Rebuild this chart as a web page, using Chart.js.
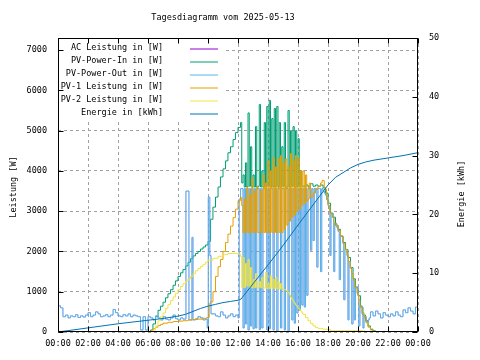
<!DOCTYPE html>
<html><head><meta charset="utf-8">
<script src="https://cdn.jsdelivr.net/npm/chart.js@4/dist/chart.umd.min.js"></script>
<style>html,body{margin:0;padding:0;background:#fff;overflow:hidden}</style>
</head><body>
<canvas id="c" width="480" height="360"></canvas>
<script>
// ---------- texts & ticks ----------
const chartTitle = 'Tagesdiagramm vom 2025-05-13';
const leftTitle = 'Leistung [W]';
const rightTitle = 'Energie [kWh]';
const seriesLabels = ['AC Leistung in [W]','PV-Power-In in [W]','PV-Power-Out in [W]','PV-1 Leistung in [W]','PV-2 Leistung in [W]','Energie in [kWh]'];
const seriesColors = ['#9400d3','#009e73','#56b4e9','#e69f00','#f0e442','#0072b2'];
const hourTicks = [0,2,4,6,8,10,12,14,16,18,20,22,24];
const hourLabels = ['00:00','02:00','04:00','06:00','08:00','10:00','12:00','14:00','16:00','18:00','20:00','22:00','00:00'];
const leftTicks = [0,1000,2000,3000,4000,5000,6000,7000];
const rightTicks = [0,10,20,30,40,50];

// ---------- data: [hour, value] pairs, plus a 5-minute section from 12:15 ----------
const fineStart = 12.25, fineStep = 1/12;

const outEarly = [[0,650],[0.17,600],[0.33,380],[0.5,420],[0.67,350],[0.83,400],[1,380],[1.17,430],[1.33,360],[1.5,400],[1.67,370],[1.83,420],[2,480],[2.17,380],[2.33,420],[2.5,500],[2.67,450],[2.83,380],[3,400],[3.17,430],[3.33,380],[3.5,420],[3.67,560],[3.83,480],[4,400],[4.17,380],[4.33,430],[4.5,400],[4.67,450],[4.83,380],[5,420],[5.17,400],[5.33,380],[5.5,50],[5.67,380],[5.83,50],[6,380],
[6.17,350],[6.33,300],[6.5,400],[6.67,350],[6.83,300],[7,380],[7.17,320],[7.33,300],[7.5,350],[7.67,420],[7.83,330],[8,300],[8.17,350],[8.33,320],[8.53,3500],[8.73,300],[8.93,2350],[9,300],[9.17,330],[9.33,380],[9.5,350],[9.67,300],[9.83,320],[9.95,100],[10.02,3350],[10.12,1900],[10.2,450],[10.33,450],[10.5,400],[10.67,380],[10.83,500],[11,420],[11.17,350],[11.33,400],[11.5,450],[11.67,380],[11.83,420],[12,350],[12.08,3300],[12.17,3560]];
const outFine = [3560,100,3560,200,3560,50,3560,150,3560,80,3560,100,3560,3560,60,3560,100,3560,3560,3560,50,3560,80,3560,3560,50,3560,3560,0,3560,3560,100,3560,3560,50,3560,3560,0,3560,3560,300,3560,220,3560,470,3560,540,3560,670,3560,620,3560,910,3560,3560,2030,3560,2270,3560,3560,1610,3560,3560,1500,3560,3500,3450];
const outLate = [[17.83,3400],[17.92,3280],[18,3150],[18.08,3050],[18.13,1900],[18.2,2950],[18.33,2850],[18.38,1500],[18.45,2700],[18.58,2600],[18.67,2500],[18.75,1300],[18.83,2380],[19,2200],[19.05,800],[19.13,2050],[19.27,1900],[19.33,300],[19.4,1750],[19.5,1580],[19.58,200],[19.67,1300],[19.75,300],[19.83,1120],[20,920],[20.05,150],[20.13,650],[20.27,450],[20.33,100],[20.4,380],[20.55,250],[20.67,300],[20.75,350],[20.83,500],[21,400],[21.17,520],[21.33,450],[21.5,350],[21.67,480],[21.83,420],[22,380],[22.17,450],[22.33,400],[22.5,500],[22.67,420],[22.83,380],[23,550],[23.17,480],[23.33,600],[23.5,520],[23.67,450],[23.83,620],[24,450]];

const inEarly = [[6,0],[6.17,50],[6.33,200],[6.5,380],[6.67,540],[6.83,640],[7,740],[7.17,850],[7.33,950],[7.5,1050],[7.67,1160],[7.83,1270],[8,1380],[8.17,1470],[8.33,1550],[8.5,1640],[8.67,1730],[8.83,1820],[9,1890],[9.17,1950],[9.33,2000],[9.5,2060],[9.67,2110],[9.83,2160],[10,2250],[10.17,2800],[10.33,3100],[10.5,3350],[10.67,3600],[10.83,3850],[11,4050],[11.17,4250],[11.33,4450],[11.5,4600],[11.67,4780],[11.83,4950],[12,5080],[12.17,5200]];
const inFine = [3700,3900,3600,4200,3600,5440,3620,4600,3600,3900,3600,5100,3600,3620,5650,3600,4000,3600,5200,3600,5600,3620,5750,3600,5300,3600,5550,3620,5600,3600,5200,3600,4600,3620,5200,3600,3600,5500,3600,5000,3620,5100,3600,5000,3600,4800,3620,4000,3620];
const inLate = [[16.33,3620],[16.5,3650],[16.67,3600],[16.83,3680],[17,3620],[17.17,3650],[17.33,3620],[17.5,3650],[17.67,3580],[17.83,3450],[18,3200],[18.17,2950],[18.33,2850],[18.5,2650],[18.67,2550],[18.83,2380],[19,2220],[19.17,2050],[19.33,1850],[19.5,1600],[19.67,1320],[19.83,1100],[20,900],[20.17,620],[20.33,420],[20.5,280],[20.67,150],[20.83,70],[21,30],[21.17,0]];

const pv1Early = [[6,0],[6.17,30],[6.33,80],[6.5,120],[6.67,160],[6.83,190],[7,220],[7.33,240],[7.67,260],[8,270],[8.33,280],[8.67,300],[9,310],[9.33,320],[9.67,340],[9.92,360],[10.08,700],[10.17,750],[10.33,1000],[10.5,1380],[10.67,1620],[10.83,1800],[11,2000],[11.17,2220],[11.33,2430],[11.5,2630],[11.67,2840],[11.83,3050],[12,3260],[12.17,3340]];
const pv1Fine = [3140,2470,3300,2470,3590,2470,3400,2470,3830,2470,3500,2470,3600,2470,2470,3510,2470,3900,2470,3700,2470,4250,2470,4000,2470,4330,2470,4100,2470,4300,2470,4380,2470,4200,2550,4300,2650,4100,2750,4430,2850,4250,2900,4380,3000,4300,3050,4000,3150];
const pv1Late = [[16.33,4000],[16.42,3200],[16.5,3900],[16.58,3250],[16.67,3300],[16.75,3700],[16.83,3350],[17,3450],[17.17,3550],[17.33,3620],[17.5,3700],[17.6,3760],[17.75,3550],[17.9,3300],[18,3140],[18.13,2950],[18.27,2850],[18.4,2700],[18.47,2650],[18.67,2520],[18.83,2380],[19,2200],[19.13,2050],[19.27,1900],[19.37,1750],[19.47,1610],[19.57,1450],[19.67,1290],[19.8,1100],[19.93,960],[20.03,800],[20.13,620],[20.27,480],[20.4,370],[20.53,230],[20.67,120],[20.83,50],[21,20],[21.13,0]];

const pv2Early = [[6,0],[6.17,0],[6.33,50],[6.5,150],[6.67,280],[6.83,380],[7,470],[7.17,580],[7.33,680],[7.5,780],[7.67,870],[7.83,960],[8,1050],[8.17,1130],[8.33,1200],[8.5,1260],[8.67,1320],[8.83,1380],[9,1450],[9.17,1520],[9.33,1580],[9.5,1630],[9.67,1680],[9.83,1730],[10,1780],[10.33,1830],[10.67,1880],[11,1920],[11.33,1950],[11.67,1950],[12,1930],[12.17,1880]];
const pv2Fine = [1100,1850,1100,1700,1150,1800,1100,1600,1100,1300,1100,1450,1100,1100,1250,1100,1350,1080,1100,1480,1080,1200,1080,1400,1080,1300,1080,1350,1070,1250,1070,1200,1060,1060,1050,1040,1020,980,920,860,810,760,715,670,630,590,555,520,480];
const pv2Late = [[16.33,440],[16.5,360],[16.67,280],[16.83,210],[17,150],[17.17,110],[17.33,90],[17.5,80],[17.67,70],[18,60],[18.17,30],[19,30],[20,30],[20.33,25],[20.5,0]];

const energy = [[0,0],[1,0.35],[2,0.7],[3,1.05],[4,1.4],[5,1.7],[6,2.0],[7,2.3],[8,2.7],[8.5,3.0],[9,3.5],[9.5,4.0],[10,4.4],[10.5,4.7],[11,5.0],[11.5,5.2],[12,5.4],[12.2,5.6],[13,8.2],[14,11.4],[15,14.7],[16,18.2],[17,21.6],[17.5,23.3],[18,25.0],[18.5,26.3],[19,27.1],[19.5,27.9],[20,28.5],[20.5,28.9],[21,29.2],[22,29.6],[23,30.0],[24,30.5]];

// ---------- build point lists ----------
const pts = pairs => pairs.map(p => ({x:p[0], y:p[1]}));
const finePts = vals => vals.map((v,k) => ({x: fineStart + k*fineStep, y: v}));
const outSeries = [...pts(outEarly), ...finePts(outFine), ...pts(outLate)];
const inSeries = [...pts(inEarly), ...finePts(inFine), ...pts(inLate)];
const pv1Series = [...pts(pv1Early), ...finePts(pv1Fine), ...pts(pv1Late)];
const pv2Series = [...pts(pv2Early), ...finePts(pv2Fine), ...pts(pv2Late)];
const energySeries = pts(energy);

const FONT = "'DejaVu Sans Mono', monospace";
const FSIZE = 8.5;
Chart.defaults.font.family = FONT;
Chart.defaults.font.size = FSIZE;
Chart.defaults.color = '#000';

function ds(i, data, axis, order, stepped, width){
  return {label: seriesLabels[i], data, yAxisID: axis, borderColor: seriesColors[i], backgroundColor: seriesColors[i],
    borderWidth: width, pointRadius: 0, fill: false, stepped: stepped, tension: 0, order: order};
}

const keyBox = {w: 164, h: 81};
const deco = {
  id: 'deco',
  beforeDatasetsDraw(chart){
    const ctx = chart.ctx, a = chart.chartArea;
    ctx.save(); ctx.fillStyle = '#fff';
    ctx.fillRect(a.left + 1, a.top + 1, keyBox.w, keyBox.h);
    ctx.restore();
  },
  afterDatasetsDraw(chart){
    const ctx = chart.ctx, a = chart.chartArea;
    const L = Math.round(a.left) + 0.5, R = Math.round(a.right) - 0.5, T = Math.round(a.top) + 0.5, B = Math.round(a.bottom) - 0.5;
    ctx.save();
    ctx.strokeStyle = '#000'; ctx.lineWidth = 1;
    ctx.strokeRect(L, T, R - L, B - T);
    const tl = 5;
    ctx.beginPath();
    const sx = chart.scales.x, sy = chart.scales.y, sy1 = chart.scales.y1;
    hourTicks.forEach(v => { const px = Math.round(sx.getPixelForValue(v)) + 0.5; ctx.moveTo(px, B); ctx.lineTo(px, B - tl); ctx.moveTo(px, T); ctx.lineTo(px, T + tl); });
    leftTicks.forEach(v => { const py = Math.round(sy.getPixelForValue(v)) + 0.5; ctx.moveTo(L, py); ctx.lineTo(L + tl, py); });
    rightTicks.forEach(v => { const py = Math.round(sy1.getPixelForValue(v)) + 0.5; ctx.moveTo(R, py); ctx.lineTo(R - tl, py); });
    ctx.stroke();
    // legend
    ctx.font = FSIZE + 'px ' + FONT;
    ctx.textBaseline = 'middle';
    ctx.textAlign = 'right';
    chart.data.datasets.forEach((d, i) => {
      const y = 47.5 + 13 * i;
      ctx.fillStyle = '#000';
      ctx.fillText(d.label, 163, y);
      ctx.strokeStyle = seriesColors[i];
      ctx.lineWidth = 1;
      ctx.beginPath(); ctx.moveTo(190, y + 1.5); ctx.lineTo(218, y + 1.5); ctx.stroke();
    });
    // titles
    ctx.fillStyle = '#000';
    ctx.textAlign = 'center';
    ctx.fillText(chartTitle, 223, 18);
    ctx.save(); ctx.translate(14, 187); ctx.rotate(-Math.PI/2); ctx.fillText(leftTitle, 0, 0); ctx.restore();
    ctx.save(); ctx.translate(462, 194); ctx.rotate(-Math.PI/2); ctx.fillText(rightTitle, 0, 0); ctx.restore();
    ctx.restore();
  }
};

new Chart(document.getElementById('c'), {
  type: 'line',
  data: { datasets: [
    ds(0, outSeries, 'y', 6, true, 0.3),
    ds(1, inSeries, 'y', 5, true, 1),
    ds(2, outSeries, 'y', 4, true, 1),
    ds(3, pv1Series, 'y', 3, true, 1),
    ds(4, pv2Series, 'y', 2, true, 1),
    ds(5, energySeries, 'y1', 1, false, 1)
  ]},
  options: {
    responsive: false, animation: false, devicePixelRatio: 1,
    layout: { padding: { top: 38, left: 0, right: 0, bottom: 0 } },
    plugins: { legend: { display: false }, title: { display: false }, tooltip: { enabled: false } },
    scales: {
      x: { type: 'linear', min: 0, max: 24,
        afterBuildTicks: s => { s.ticks = hourTicks.map(v => ({value: v})); },
        afterFit: s => { s.height = 28; },
        ticks: { callback: v => hourLabels[hourTicks.indexOf(v)], maxRotation: 0, autoSkip: false, padding: 7, color: '#000' },
        grid: { color: '#a0a0a0', drawTicks: false, lineWidth: 1 },
        border: { display: false, dash: [3, 3] } },
      y: { position: 'left', min: 0, max: 7300,
        afterBuildTicks: s => { s.ticks = leftTicks.map(v => ({value: v})); },
        afterFit: s => { s.width = 58; },
        ticks: { padding: 11, color: '#000', callback: v => String(v) },
        grid: { color: '#a0a0a0', drawTicks: false, lineWidth: 1 },
        border: { display: false, dash: [3, 3] } },
      y1: { position: 'right', min: 0, max: 50,
        afterBuildTicks: s => { s.ticks = rightTicks.map(v => ({value: v})); },
        afterFit: s => { s.width = 62; },
        ticks: { padding: 11, color: '#000', callback: v => String(v) },
        grid: { display: false, drawTicks: false },
        border: { display: false } }
    }
  },
  plugins: [deco]
});
</script>
</body></html>
